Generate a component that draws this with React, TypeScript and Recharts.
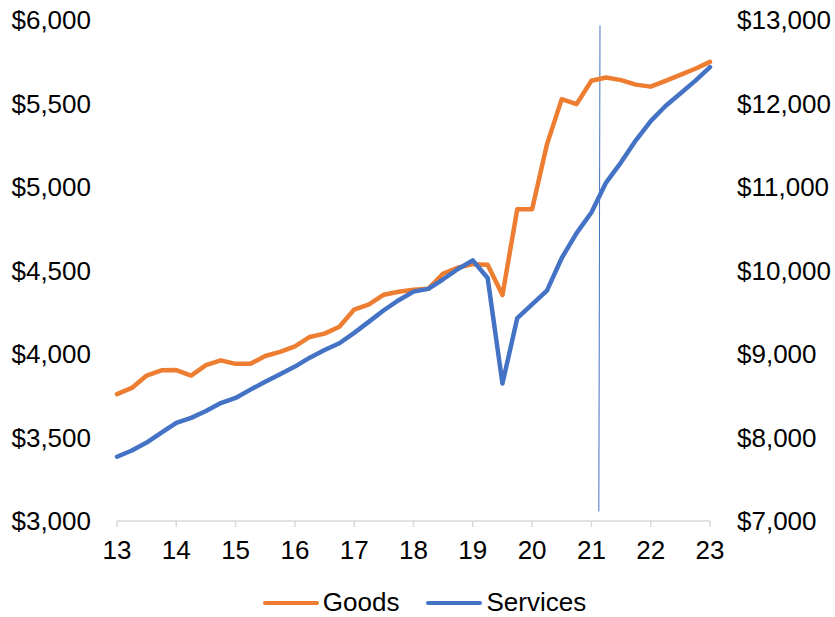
import React from 'react';
import { LineChart, Line, XAxis, YAxis, ReferenceLine, Legend } from 'recharts';

const years = [13, 14, 15, 16, 17, 18, 19, 20, 21, 22, 23];
const goods = [
  3760, 3797, 3871, 3902, 3904, 3871, 3933, 3962, 3941, 3941, 3988, 4013, 4046, 4102, 4122, 4163,
  4266, 4297, 4355, 4373, 4385, 4390, 4482, 4517, 4538, 4534, 4353, 4867, 4867, 5255, 5526, 5496,
  5636, 5656, 5640, 5613, 5601, 5636, 5671, 5708, 5749,
];
const services = [
  7770, 7844, 7939, 8058, 8174, 8235, 8318, 8412, 8474, 8573, 8668, 8758, 8849, 8956, 9047, 9129,
  9253, 9388, 9524, 9644, 9747, 9780, 9895, 10018, 10121, 9911, 8647, 9430, 9594, 9759, 10150, 10447,
  10694, 11056, 11295, 11559, 11789, 11970, 12119, 12271, 12436,
];
const leftTicks = [3000, 3500, 4000, 4500, 5000, 5500, 6000];
const rightTicks = [7000, 8000, 9000, 10000, 11000, 12000, 13000];
const markerLine = [
  { x: 21.145, y: 5966 },
  { x: 21.125, y: 3057 },
];

const data = goods.map((g, i) => ({ t: years[0] + i / 4, goods: g, services: services[i] }));

const GOODS_COLOR = '#ED7D31';
const SERVICES_COLOR = '#4472C4';
const FONT = '"Liberation Sans", Arial, sans-serif';

const fmt = (v: number) => '$' + v.toLocaleString('en-US');

const renderLegend = () => (
  <div
    style={{
      display: 'flex',
      justifyContent: 'center',
      alignItems: 'center',
      height: 30,
      paddingLeft: 14,
      fontFamily: FONT,
      fontSize: 26,
      color: '#000',
      lineHeight: '30px',
    }}
  >
    {[
      { name: 'Goods', color: GOODS_COLOR },
      { name: 'Services', color: SERVICES_COLOR },
    ].map((item, idx) => (
      <div key={item.name} style={{ display: 'flex', alignItems: 'center', marginLeft: idx ? 27 : 0 }}>
        <span
          style={{
            display: 'inline-block',
            width: 56,
            height: 4,
            borderRadius: 2,
            background: item.color,
            marginRight: 4,
            marginTop: 2,
          }}
        />
        <span>{item.name}</span>
      </div>
    ))}
  </div>
);

export default function App() {
  return (
    <div style={{ position: 'absolute', left: 0, top: 0, background: '#fff' }}>
      <LineChart
        width={835}
        height={617}
        data={data}
        margin={{ top: 20, right: 10, left: 10, bottom: 0 }}
        style={{ fontFamily: FONT }}
      >
        <XAxis
          dataKey="t"
          type="number"
          domain={[13, 23]}
          ticks={years}
          height={66}
          axisLine={{ stroke: '#D9D9D9', strokeWidth: 1.5 }}
          tickLine={{ stroke: '#D9D9D9', strokeWidth: 1.5 }}
          tickSize={6}
          tickMargin={14}
          tick={{ fill: '#000', fontSize: 26, fontFamily: FONT }}
        />
        <YAxis
          yAxisId="left"
          orientation="left"
          domain={[3000, 6000]}
          ticks={leftTicks}
          width={107}
          axisLine={false}
          tickLine={false}
          tickSize={0}
          tickMargin={26}
          tickFormatter={fmt}
          tick={{ fill: '#000', fontSize: 26, fontFamily: FONT }}
        />
        <YAxis
          yAxisId="right"
          orientation="right"
          domain={[7000, 13000]}
          ticks={rightTicks}
          width={115}
          axisLine={false}
          tickLine={false}
          tickSize={0}
          tickMargin={27}
          tickFormatter={fmt}
          tick={{ fill: '#000', fontSize: 26, fontFamily: FONT, textAnchor: 'start' }}
        />
        <ReferenceLine
          yAxisId="left"
          segment={markerLine}
          stroke={SERVICES_COLOR}
          strokeWidth={1}
          ifOverflow="visible"
        />
        <Line
          yAxisId="left"
          dataKey="goods"
          name="Goods"
          stroke={GOODS_COLOR}
          strokeWidth={4.5}
          strokeLinejoin="round"
          strokeLinecap="round"
          dot={false}
          activeDot={false}
          isAnimationActive={false}
          type="linear"
        />
        <Line
          yAxisId="right"
          dataKey="services"
          name="Services"
          stroke={SERVICES_COLOR}
          strokeWidth={4.5}
          strokeLinejoin="round"
          strokeLinecap="round"
          dot={false}
          activeDot={false}
          isAnimationActive={false}
          type="linear"
        />
        <Legend verticalAlign="bottom" height={30} content={renderLegend} />
      </LineChart>
    </div>
  );
}
